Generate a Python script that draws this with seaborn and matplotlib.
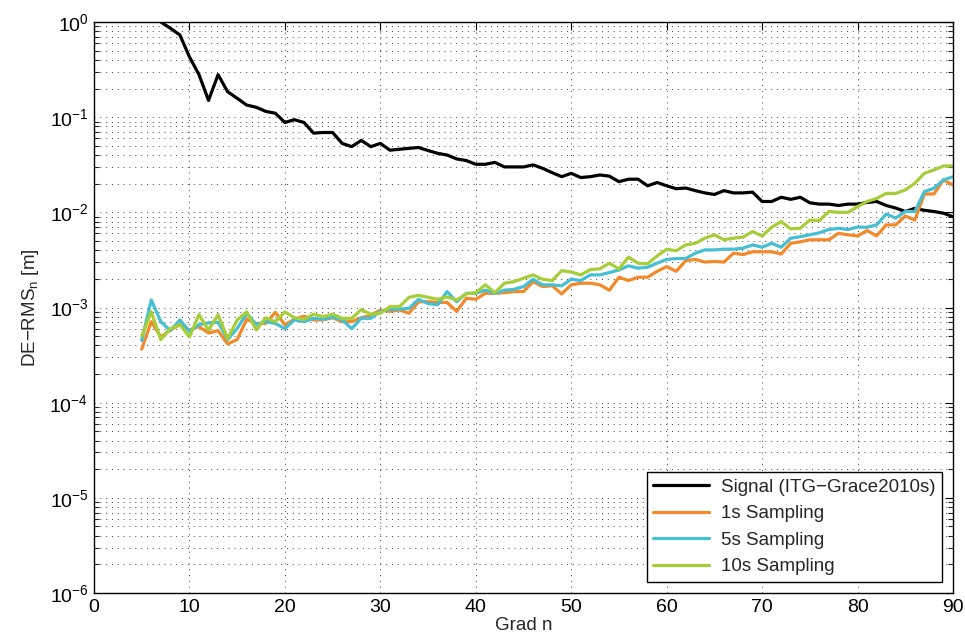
import numpy as np
import pandas as pd
import matplotlib
matplotlib.use("Agg")
import matplotlib.pyplot as plt
import matplotlib.ticker as mticker
import seaborn as sns

# Grad n
n_signal = list(range(2, 91))
n_sampling = list(range(5, 91))

# Signal (ITG-Grace2010s)
signal = [4.5, 2.8, 1.9, 1.45, 1.15, 1.0, 0.86, 0.73, 0.43, 0.28, 0.15, 0.28, 0.185, 0.158,
          0.134, 0.127, 0.115, 0.11, 0.088, 0.094, 0.088, 0.068, 0.069, 0.069, 0.053, 0.049,
          0.057, 0.049, 0.053, 0.045, 0.046, 0.047, 0.048, 0.0446, 0.0417, 0.040, 0.0364,
          0.035, 0.032, 0.032, 0.0335, 0.030, 0.030, 0.030, 0.0315, 0.029, 0.0261, 0.0237,
          0.0257, 0.0232, 0.0237, 0.0247, 0.024, 0.021, 0.0223, 0.0223, 0.019, 0.0206, 0.019,
          0.0177, 0.018, 0.0169, 0.016, 0.0154, 0.0169, 0.016, 0.016, 0.0163, 0.013, 0.013,
          0.0144, 0.0137, 0.0144, 0.0126, 0.0122, 0.0122, 0.0118, 0.0122, 0.0122, 0.0127,
          0.013, 0.0118, 0.0111, 0.0102, 0.011, 0.0105, 0.0102, 0.0098, 0.0090]

s1 = [3.65e-4, 7.1e-4, 4.9e-4, 5.8e-4, 6.6e-4, 5.8e-4, 6.3e-4, 5.4e-4, 5.7e-4, 4.15e-4,
      4.6e-4, 7.5e-4, 6.8e-4, 6.8e-4, 8.9e-4, 6.6e-4, 7.5e-4, 8.1e-4, 7.4e-4, 7.4e-4,
      7.8e-4, 7.1e-4, 7.1e-4, 7.8e-4, 8.3e-4, 9.4e-4, 9.1e-4, 9.4e-4, 8.7e-4, 1.15e-3,
      1.15e-3, 1.13e-3, 1.13e-3, 9.1e-4, 1.25e-3, 1.22e-3, 1.41e-3, 1.41e-3, 1.43e-3, 1.47e-3,
      1.47e-3, 1.87e-3, 1.66e-3, 1.69e-3, 1.39e-3, 1.73e-3, 1.8e-3, 1.8e-3, 1.73e-3, 1.52e-3,
      2.08e-3, 1.92e-3, 2.08e-3, 2.08e-3, 2.4e-3, 2.69e-3, 2.4e-3, 3.11e-3, 3.2e-3, 3.0e-3,
      3.05e-3, 3.0e-3, 3.72e-3, 3.6e-3, 3.85e-3, 3.85e-3, 3.85e-3, 3.65e-3, 4.73e-3, 4.9e-3,
      5.15e-3, 5.15e-3, 5.15e-3, 6.03e-3, 5.8e-3, 5.65e-3, 6.43e-3, 5.65e-3, 7.38e-3, 7.38e-3,
      9.17e-3, 8.3e-3, 1.56e-2, 1.56e-2, 2.19e-2, 1.94e-2]

s5 = [4.5e-4, 1.2e-3, 7.1e-4, 5.7e-4, 7.4e-4, 5.6e-4, 6.6e-4, 6.9e-4, 7.0e-4, 4.6e-4,
      6.0e-4, 8.7e-4, 6.6e-4, 7.1e-4, 6.8e-4, 6.0e-4, 7.4e-4, 7.1e-4, 7.7e-4, 7.5e-4,
      7.9e-4, 7.4e-4, 6.0e-4, 7.7e-4, 7.7e-4, 9.1e-4, 9.6e-4, 9.6e-4, 9.8e-4, 1.22e-3,
      1.1e-3, 1.07e-3, 1.47e-3, 1.15e-3, 1.41e-3, 1.41e-3, 1.52e-3, 1.41e-3, 1.52e-3, 1.55e-3,
      1.66e-3, 1.98e-3, 1.73e-3, 1.73e-3, 1.69e-3, 1.98e-3, 1.92e-3, 2.2e-3, 2.2e-3, 2.33e-3,
      2.48e-3, 2.74e-3, 2.59e-3, 2.65e-3, 2.92e-3, 3.2e-3, 3.27e-3, 3.27e-3, 3.72e-3, 4.03e-3,
      4.03e-3, 4.1e-3, 4.1e-3, 4.2e-3, 4.55e-3, 4.3e-3, 4.73e-3, 4.3e-3, 5.35e-3, 5.55e-3,
      5.8e-3, 6.1e-3, 6.6e-3, 6.8e-3, 6.6e-3, 7.0e-3, 6.97e-3, 7.38e-3, 9.6e-3, 8.7e-3,
      1.02e-2, 1.02e-2, 1.65e-2, 1.79e-2, 2.19e-2, 2.37e-2]

s10 = [5.0e-4, 9.0e-4, 4.6e-4, 6.0e-4, 6.6e-4, 4.9e-4, 8.4e-4, 5.8e-4, 8.4e-4, 4.7e-4,
       7.4e-4, 9.0e-4, 5.8e-4, 7.8e-4, 7.1e-4, 9.0e-4, 7.8e-4, 7.5e-4, 8.5e-4, 8.0e-4,
       8.5e-4, 7.7e-4, 7.7e-4, 9.5e-4, 8.5e-4, 8.7e-4, 1.02e-3, 1.02e-3, 1.28e-3, 1.34e-3,
       1.28e-3, 1.22e-3, 1.29e-3, 1.2e-3, 1.39e-3, 1.43e-3, 1.73e-3, 1.43e-3, 1.8e-3, 1.87e-3,
       2.03e-3, 2.2e-3, 1.98e-3, 1.92e-3, 2.44e-3, 2.36e-3, 2.2e-3, 2.5e-3, 2.55e-3, 2.92e-3,
       2.55e-3, 3.38e-3, 2.92e-3, 2.88e-3, 3.48e-3, 4.09e-3, 3.95e-3, 4.55e-3, 4.73e-3, 5.35e-3,
       5.8e-3, 5.15e-3, 5.35e-3, 5.5e-3, 6.28e-3, 5.65e-3, 6.97e-3, 8.0e-3, 6.7e-3, 6.8e-3,
       8.3e-3, 8.2e-3, 1.02e-2, 1.0e-2, 1.0e-2, 1.15e-2, 1.3e-2, 1.4e-2, 1.58e-2, 1.58e-2,
       1.72e-2, 2.02e-2, 2.57e-2, 2.79e-2, 3.07e-2, 3.07e-2]

labels = ["Signal (ITG\u2212Grace2010s)", "1s Sampling", "5s Sampling", "10s Sampling"]
colors = ["#000000", "#F28A2B", "#47BFD3", "#A6CE38"]
y_ticks = [1e-6, 1e-5, 1e-4, 1e-3, 1e-2, 1e-1, 1e0]
x_ticks = list(range(0, 91, 10))

df = pd.concat([
    pd.DataFrame({"n": n_signal, "rms": signal, "serie": labels[0]}),
    pd.DataFrame({"n": n_sampling, "rms": s1, "serie": labels[1]}),
    pd.DataFrame({"n": n_sampling, "rms": s5, "serie": labels[2]}),
    pd.DataFrame({"n": n_sampling, "rms": s10, "serie": labels[3]}),
])

sns.set_style("white")
plt.rcParams["font.family"] = ["Liberation Sans", "DejaVu Sans"]
plt.rcParams["mathtext.fontset"] = "custom"
plt.rcParams["mathtext.rm"] = "Liberation Sans"
plt.rcParams["mathtext.it"] = "Liberation Sans:italic"
plt.rcParams["axes.unicode_minus"] = True

fig = plt.figure(figsize=(9.65, 6.39), dpi=100)
ax = fig.add_axes([94 / 965, 1 - 593 / 639, (953 - 94) / 965, (593 - 22) / 639])

sns.lineplot(data=df, x="n", y="rms", hue="serie", hue_order=labels,
             palette=dict(zip(labels, colors)), linewidth=2.3, ax=ax, legend=False)

ax.set_yscale("log")
ax.set_xlim(0, 90)
ax.set_ylim(1e-6, 1e0)
ax.set_xticks(x_ticks)
ax.yaxis.set_major_locator(mticker.FixedLocator(y_ticks))
ax.yaxis.set_major_formatter(mticker.LogFormatterSciNotation())
minor = [m * t for t in y_ticks[:-1] for m in range(2, 10)]
ax.yaxis.set_minor_locator(mticker.FixedLocator(minor))
ax.yaxis.set_minor_formatter(mticker.NullFormatter())

grid_ls = (0, (1, 5))
ax.grid(True, which="major", axis="x", color="0.25", linestyle=grid_ls, linewidth=0.7)
ax.grid(True, which="both", axis="y", color="0.25", linestyle=grid_ls, linewidth=0.7)
ax.set_axisbelow(True)

for sp in ax.spines.values():
    sp.set_color("black")
    sp.set_linewidth(1.0)
ax.tick_params(which="major", direction="in", length=6, width=0.8, top=True, right=True,
               labelsize=14, colors="black", pad=4)
ax.tick_params(which="minor", direction="in", length=3.5, width=0.8, top=False, right=True,
               left=True, bottom=False)

ax.set_xlabel("Grad n", fontsize=13.5, labelpad=1)
ax.set_ylabel("DE\u2212RMS$_\\mathrm{n}$ [m]", fontsize=13.5, labelpad=6)

handles = [plt.Line2D([], [], color=c, lw=2.3) for c in colors]
leg = ax.legend(handles, labels, loc="lower right", fontsize=13.5, frameon=True,
                fancybox=False, framealpha=1, edgecolor="black", handlelength=3.0,
                borderpad=0.35, labelspacing=0.5, borderaxespad=0.6, handletextpad=0.6)
leg.get_frame().set_linewidth(1.0)

fig.savefig("out.png", dpi=100)
